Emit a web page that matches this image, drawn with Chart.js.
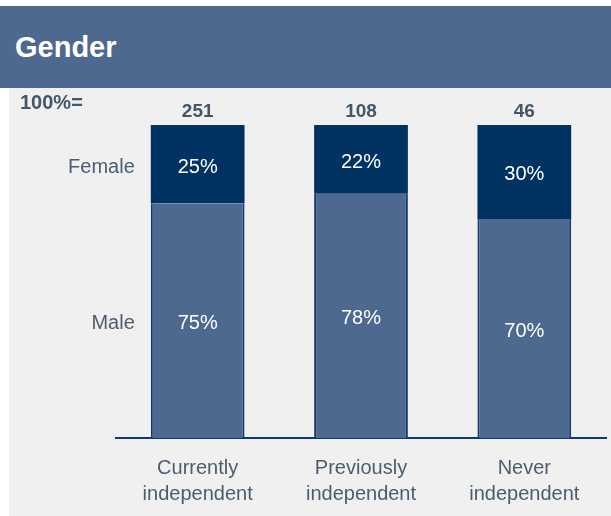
<!DOCTYPE html>
<html>
<head>
<meta charset="utf-8">
<script src="https://cdn.jsdelivr.net/npm/chart.js@4"></script>
<style>
  body { margin: 0; background: #fff; width: 611px; height: 516px; position: relative; overflow: hidden;
         font-family: Arial, "Liberation Sans", sans-serif; }
  #head { position: absolute; left: 0; top: 6px; width: 611px; height: 82px; background: #4d6990; }
  #head span { position: absolute; left: 15px; top: 24px; color: #fff; font-weight: bold; font-size: 29px; line-height: 34px; }
  #panel { position: absolute; left: 9px; top: 88px; width: 602px; height: 428px; background: #f0f0f0; }
</style>
</head>
<body>
<div id="head"><span>Gender</span></div>
<div id="panel"><canvas id="genderChart" width="602" height="428"></canvas></div>
<script>
// data
var categories = [['Currently', 'independent'], ['Previously', 'independent'], ['Never', 'independent']];
var totals = [251, 108, 46];
var maleShare = [75, 78, 70];
var femaleShare = [25, 22, 30];
var seriesNames = ['Male', 'Female'];

var navy = '#003262';
var slate = '#4d6990';
var edge = '#0f3b6c';
var textGrey = '#4b5d70';

//=========== labels drawn on top of the bars ===========
var labelPlugin = {
    id: 'labels',
    afterDatasetsDraw: function(chart) {
        var ctx = chart.ctx;
        ctx.save();
        ctx.textBaseline = 'middle';

        // percent inside each segment
        chart.data.datasets.forEach(function(ds, d) {
            var meta = chart.getDatasetMeta(d);
            meta.data.forEach(function(bar, i) {
                ctx.fillStyle = '#ffffff';
                ctx.font = '20px Arial, "Liberation Sans"';
                ctx.textAlign = 'center';
                ctx.fillText(ds.data[i] + '%', bar.x, (bar.y + bar.base) / 2 + 3);
            });
        });

        // series names left of the first bar
        chart.data.datasets.forEach(function(ds, d) {
            var bar = chart.getDatasetMeta(d).data[0];
            ctx.fillStyle = textGrey;
            ctx.font = '20px Arial, "Liberation Sans"';
            ctx.textAlign = 'right';
            ctx.fillText(ds.label, bar.x - bar.width / 2 - 16, (bar.y + bar.base) / 2 + 3);
        });

        // base sizes above the bars
        var topMeta = chart.getDatasetMeta(chart.data.datasets.length - 1);
        ctx.fillStyle = '#44566a';
        ctx.font = 'bold 19px Arial, "Liberation Sans"';
        ctx.textAlign = 'center';
        topMeta.data.forEach(function(bar, i) {
            ctx.fillText(totals[i], bar.x, chart.chartArea.top - 13);
        });

        ctx.font = 'bold 20px Arial, "Liberation Sans"';
        ctx.textAlign = 'left';
        ctx.fillText('100%=', 11, 15);
        ctx.restore();
    }
};

var chrt = document.getElementById('genderChart').getContext('2d');
var config = {
    type: 'bar',
    data: {
        labels: categories,
        datasets: [{
            label: seriesNames[0],
            data: maleShare,
            backgroundColor: slate,
            borderColor: edge,
            borderWidth: { left: 2, right: 2, top: 0, bottom: 0 },
            borderSkipped: false
        }, {
            label: seriesNames[1],
            data: femaleShare,
            backgroundColor: navy,
            borderWidth: 0
        }]
    },
    options: {
        responsive: false,
        animation: false,
        barPercentage: 0.574,
        categoryPercentage: 1,
        layout: { padding: { left: 107, right: 5, top: 37, bottom: 0 } },
        plugins: {
            legend: { display: false },
            tooltip: { enabled: false }
        },
        scales: {
            x: {
                stacked: true,
                grid: { display: false },
                border: { display: true, color: edge, width: 2 },
                ticks: {
                    color: textGrey,
                    padding: 9,
                    font: { family: 'Arial, "Liberation Sans"', size: 20, lineHeight: 1.3 }
                },
                afterFit: function(scale) { scale.height = 78; }
            },
            y: {
                stacked: true,
                display: false,
                min: 0,
                max: 100
            }
        }
    },
    plugins: [labelPlugin]
};

var genderChart = new Chart(chrt, config);
</script>
</body>
</html>
